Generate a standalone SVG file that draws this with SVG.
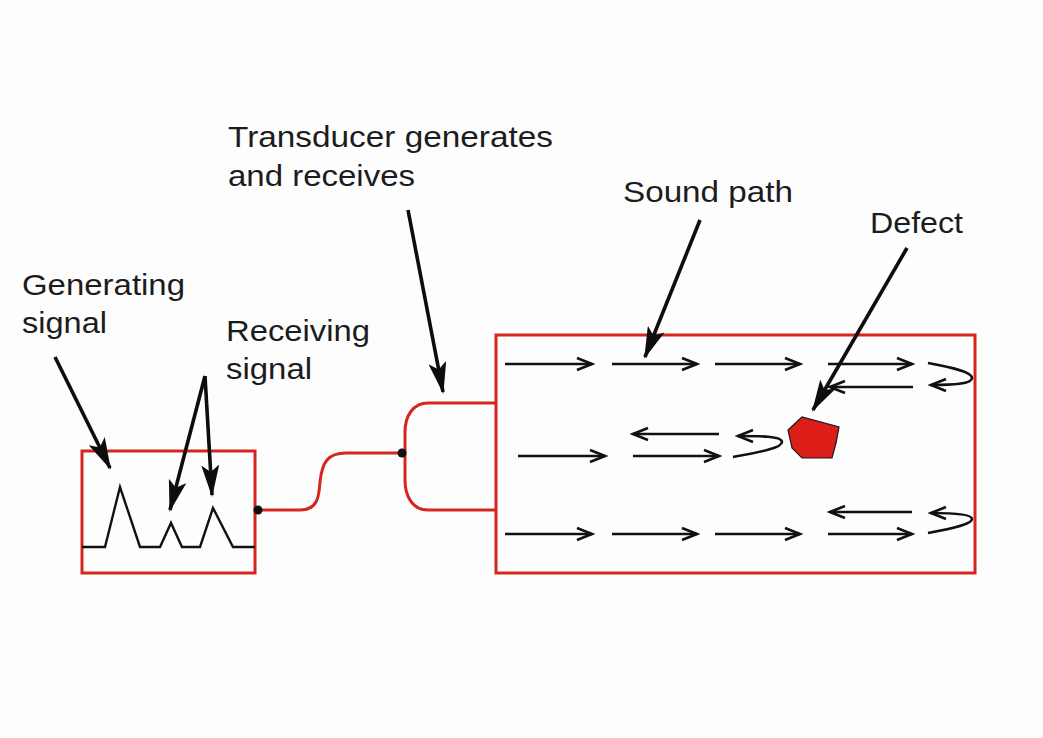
<svg xmlns="http://www.w3.org/2000/svg" width="1043" height="738" viewBox="0 0 1043 738">
<style>
.lbl{font-family:"Liberation Sans",Arial,Helvetica,sans-serif;font-size:30px;fill:#1c1c1c}
.red{fill:none;stroke:#d4261f;stroke-width:3}
.ptr{fill:none;stroke:#0d0d0d;stroke-width:3.6;marker-end:url(#fa)}
.path{fill:none;stroke:#111;stroke-width:2.6;marker-end:url(#oa)}
.sig{fill:none;stroke:#111;stroke-width:2.4;stroke-linejoin:miter}
</style>
<defs>
<marker id="fa" viewBox="0 0 32 18" refX="30" refY="9" markerWidth="32" markerHeight="18" orient="auto" markerUnits="userSpaceOnUse">
<path d="M0,0 L32,9 L0,18 L7,9 z" fill="#0d0d0d"/>
</marker>
<marker id="oa" viewBox="0 0 20 16" refX="17" refY="8" markerWidth="20" markerHeight="16" orient="auto" markerUnits="userSpaceOnUse">
<path d="M2,2 L17,8 L2,14" fill="none" stroke="#111" stroke-width="2.6" stroke-linejoin="miter"/>
</marker>
</defs>
<rect width="1043" height="738" fill="#fdfdfd"/>

<g id="instrument">
<rect x="82" y="451" width="173" height="122" class="red"/>
<polyline class="sig" points="82,547 105,547 120,487 140,547 160,547 171,523 182,547 200,547 213,508 233,547 255,547"/>
</g>

<g id="cable">
<path class="red" d="M258,510 H300 C318,510 319,496 320,482 C322,462 328,453 346,453 H401"/>
<circle cx="258" cy="510" r="4.5" fill="#111"/>
</g>

<g id="transducer">
<path class="red" d="M496,403 H428 C413,403 405,416 405,432 V480 C405,497 413,510 428,510 H496"/>
<circle cx="402" cy="453" r="4.5" fill="#111"/>
</g>

<g id="test-piece">
<rect x="496" y="335" width="479" height="238" class="red"/>
</g>

<g id="defect">
<polygon points="788,430 802,417 839,427 836,443 832,458 802,458 792,448" fill="#dd1d18" stroke="#1a1a1a" stroke-width="1.2"/>
</g>

<g id="sound-paths">
<line class="path" x1="505" y1="364" x2="592" y2="364"/>
<line class="path" x1="612" y1="364" x2="697" y2="364"/>
<line class="path" x1="715" y1="364" x2="800" y2="364"/>
<line class="path" x1="828" y1="364" x2="912" y2="364"/>
<line class="path" x1="913" y1="387" x2="830" y2="387"/>
<path class="path" d="M928,363 C955,368 972,372 972,378 C972,384 952,385 931,385"/>

<line class="path" x1="518" y1="456" x2="605" y2="456"/>
<line class="path" x1="633" y1="456" x2="719" y2="456"/>
<line class="path" x1="719" y1="434" x2="633" y2="434"/>
<path class="path" d="M733,457 C760,452 782,448 782,442 C782,436 760,436 738,436"/>

<line class="path" x1="505" y1="534" x2="592" y2="534"/>
<line class="path" x1="612" y1="534" x2="697" y2="534"/>
<line class="path" x1="715" y1="534" x2="800" y2="534"/>
<line class="path" x1="828" y1="534" x2="912" y2="534"/>
<line class="path" x1="912" y1="512" x2="830" y2="512"/>
<path class="path" d="M928,533 C955,528 972,524 972,519 C972,514 952,513 931,513"/>
</g>

<g id="connectors">
<line class="ptr" x1="55" y1="357" x2="110" y2="468"/>
<line class="ptr" x1="205" y1="376" x2="170" y2="510"/>
<line class="ptr" x1="205" y1="376" x2="212" y2="495"/>
<line class="ptr" x1="408" y1="210" x2="443" y2="392"/>
<line class="ptr" x1="700" y1="220" x2="645" y2="357"/>
<line class="ptr" x1="907" y1="248" x2="813" y2="410"/>
</g>

<g id="labels">
<text class="lbl" x="228" y="147" textLength="325" lengthAdjust="spacingAndGlyphs">Transducer generates</text>
<text class="lbl" x="228" y="186" textLength="187" lengthAdjust="spacingAndGlyphs">and receives</text>
<text class="lbl" x="22" y="295" textLength="163" lengthAdjust="spacingAndGlyphs">Generating</text>
<text class="lbl" x="22" y="333" textLength="85" lengthAdjust="spacingAndGlyphs">signal</text>
<text class="lbl" x="226" y="341" textLength="144" lengthAdjust="spacingAndGlyphs">Receiving</text>
<text class="lbl" x="226" y="379" textLength="86" lengthAdjust="spacingAndGlyphs">signal</text>
<text class="lbl" x="623" y="202" textLength="170" lengthAdjust="spacingAndGlyphs">Sound path</text>
<text class="lbl" x="870" y="233" textLength="93" lengthAdjust="spacingAndGlyphs">Defect</text>
</g>
</svg>
